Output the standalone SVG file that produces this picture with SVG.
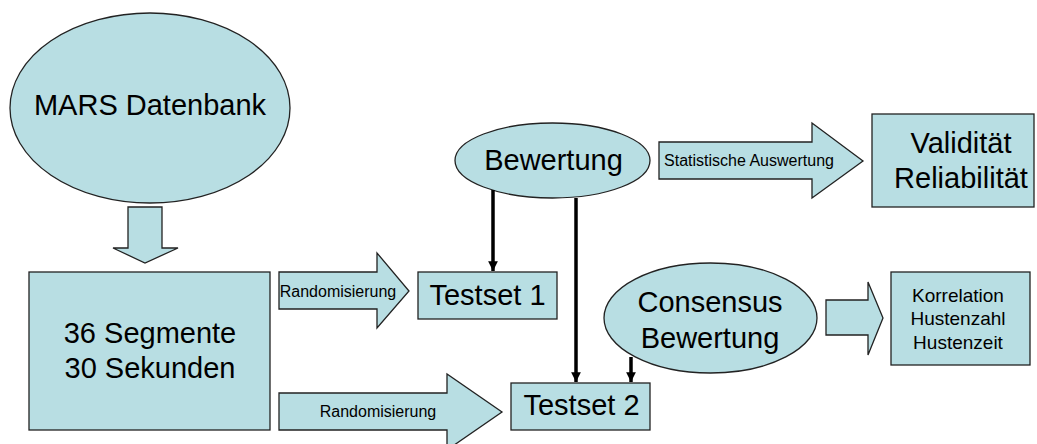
<svg xmlns="http://www.w3.org/2000/svg" width="1037" height="444" viewBox="0 0 1037 444">
<defs>
<style>
.shape{fill:#b8dee3;stroke:#222;stroke-width:1.3}
.t{font-family:"Liberation Sans",Arial,sans-serif;fill:#000;text-anchor:middle}
.big{font-size:29px}
.med{font-size:19px}
.sm{font-size:16px}
.conn{stroke:#000;stroke-width:3.5;fill:none}
</style>
<marker id="ah" viewBox="0 0 10 10" refX="10" refY="5" markerWidth="2.8" markerHeight="2.8" orient="auto" markerUnits="strokeWidth">
<path d="M0,0 L10,5 L0,10 z" fill="#000"/>
</marker>
</defs>
<rect width="1037" height="444" fill="#fff"/>

<g id="mars">
<ellipse class="shape" cx="150" cy="108" rx="140" ry="95"/>
<text class="t big" x="150" y="115">MARS Datenbank</text>
</g>

<g id="arrow-down">
<path class="shape" d="M128,207 L162,207 L162,248 L178,248 L145,263 L113,248 L128,248 Z"/>
</g>

<g id="segmente">
<rect class="shape" x="29" y="272" width="241" height="158"/>
<text class="t big" x="150" y="343">36 Segmente</text>
<text class="t big" x="150" y="378">30 Sekunden</text>
</g>

<g id="randomisierung1">
<path class="shape" d="M279,272 L377,272 L377,253 L409,291 L377,328 L377,309 L279,309 Z"/>
<text class="t sm" x="338" y="297">Randomisierung</text>
</g>

<g id="testset1">
<rect class="shape" x="418" y="272" width="139" height="47"/>
<text class="t big" x="487.5" y="305">Testset 1</text>
</g>

<g id="bewertung">
<ellipse class="shape" cx="552.5" cy="160.5" rx="97.5" ry="37.5"/>
<text class="t big" x="553.5" y="170">Bewertung</text>
</g>

<g id="statistik">
<path class="shape" d="M659,142 L812,142 L812,123 L863,161 L812,198 L812,179 L659,179 Z"/>
<text class="t sm" x="749" y="166">Statistische Auswertung</text>
</g>

<g id="validitaet">
<rect class="shape" x="872" y="114" width="162" height="93"/>
<text class="t big" x="961" y="153">Validität</text>
<text class="t big" x="961" y="188">Reliabilität</text>
</g>

<g id="randomisierung2">
<path class="shape" d="M279,393 L447,393 L447,374 L502,412 L447,450 L447,430 L279,430 Z"/>
<text class="t sm" x="378" y="417">Randomisierung</text>
</g>

<g id="testset2">
<rect class="shape" x="511" y="383" width="139" height="47"/>
<text class="t big" x="581.5" y="415">Testset 2</text>
</g>

<g id="consensus">
<ellipse class="shape" cx="710.5" cy="318" rx="106.5" ry="55"/>
<text class="t big" x="710" y="312">Consensus</text>
<text class="t big" x="710" y="348">Bewertung</text>
</g>

<g id="arrow-korrelation">
<path class="shape" d="M826,300 L868,300 L868,282 L883,318 L868,355 L868,335 L826,335 Z"/>
</g>

<g id="korrelation">
<rect class="shape" x="891" y="272" width="139" height="93"/>
<text class="t med" x="958" y="302">Korrelation</text>
<text class="t med" x="958" y="325">Hustenzahl</text>
<text class="t med" x="958" y="349">Hustenzeit</text>
</g>

<g id="connectors">
<line class="conn" x1="493" y1="190" x2="493" y2="271" marker-end="url(#ah)"/>
<line class="conn" x1="576" y1="198" x2="576" y2="382" marker-end="url(#ah)"/>
<line class="conn" x1="631" y1="357" x2="631" y2="382" marker-end="url(#ah)"/>
</g>
</svg>
